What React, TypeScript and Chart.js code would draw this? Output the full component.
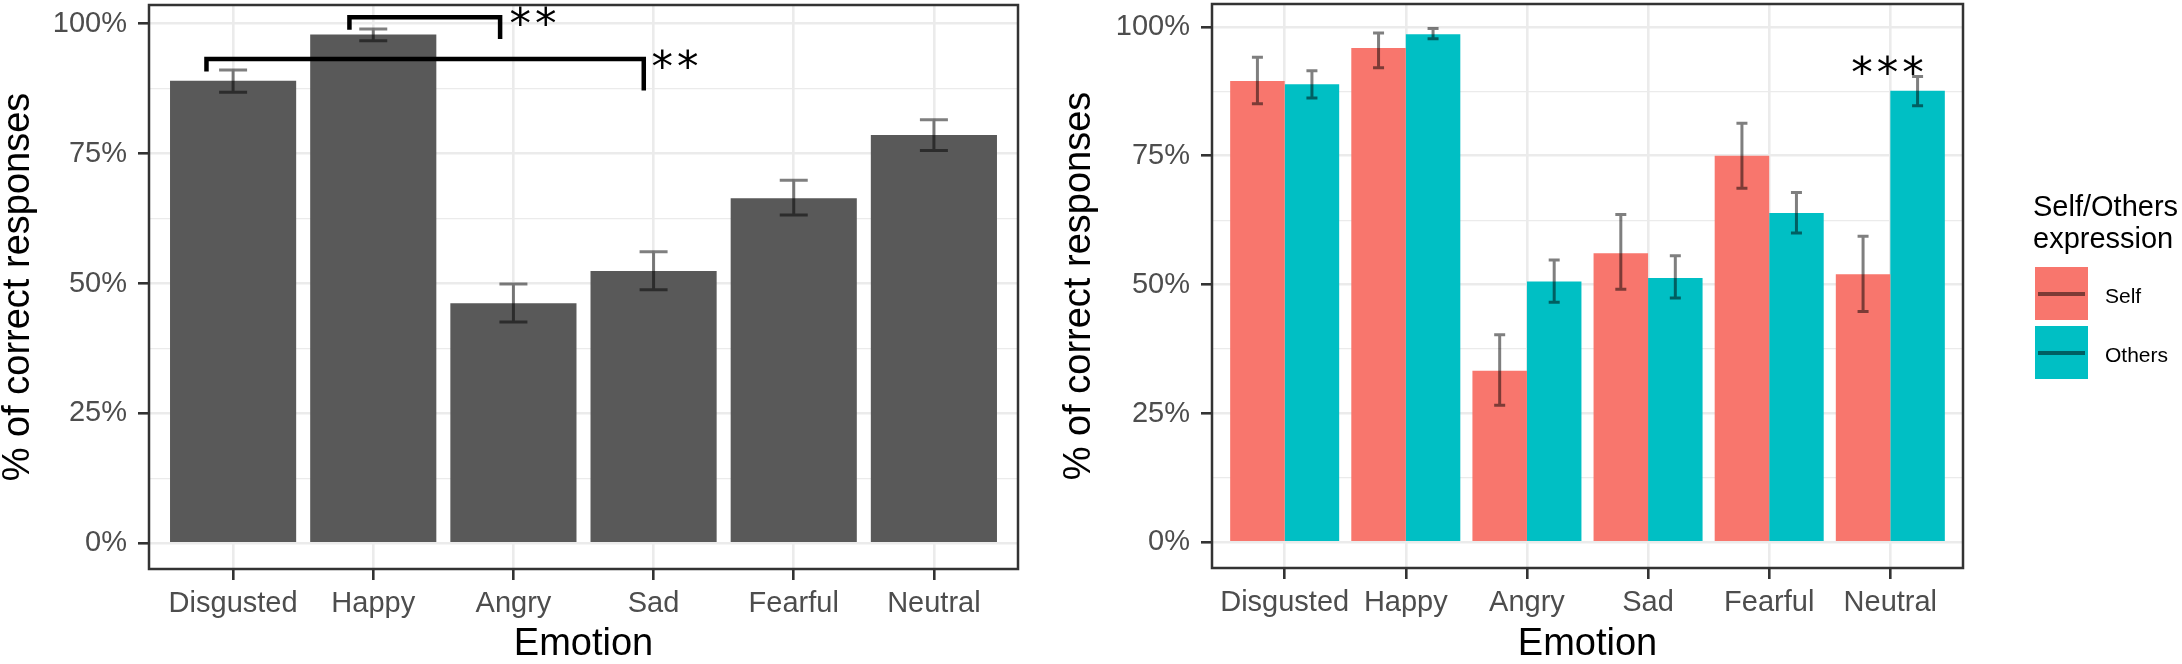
import React, { useEffect, useRef } from 'react';
import { Chart, registerables } from 'chart.js';

Chart.register(...registerables);

// ---------------- data ----------------
const CATEGORIES = ['Disgusted', 'Happy', 'Angry', 'Sad', 'Fearful', 'Neutral'];
const CATEGORY_INDEX = [0, 1, 2, 3, 4, 5];

// left panel: all expressions
const OVERALL_MEAN = [89.0, 97.9, 46.2, 52.4, 66.4, 78.6];
const OVERALL_LOW = [86.8, 96.7, 42.6, 48.8, 63.2, 75.6];
const OVERALL_HIGH = [91.1, 99.0, 49.9, 56.1, 69.9, 81.5];

// right panel: Self / Others expression
const SELF_MEAN = [89.5, 95.9, 33.3, 56.1, 75.0, 52.0];
const SELF_LOW = [85.1, 92.1, 26.6, 49.1, 68.7, 44.8];
const SELF_HIGH = [94.1, 98.8, 40.3, 63.6, 81.3, 59.4];
const OTHERS_MEAN = [88.9, 98.6, 50.6, 51.3, 63.9, 87.6];
const OTHERS_LOW = [86.2, 97.7, 46.6, 47.4, 60.0, 84.7];
const OTHERS_HIGH = [91.5, 99.7, 54.8, 55.6, 67.9, 90.4];

const SERIES_LABELS = ['Self', 'Others'];
const LEGEND_TITLE = ['Self/Others', 'expression'];

const Y_TICKS = [0, 12.5, 25, 37.5, 50, 62.5, 75, 87.5, 100];
const Y_MAJOR = [0, 25, 50, 75, 100];

// significance brackets (left panel), in category / percent units
const BRACKET_FROM = [0.83, -0.19];
const BRACKET_TO = [1.905, 2.93];
const BRACKET_LEVEL = [101.25, 93.2];
const BRACKET_FROM_END = [98.85, 90.8];
const BRACKET_TO_END = [97.05, 87.15];
const BRACKET_LABEL = ['**', '**'];
const BRACKET_LABEL_X = [1.972, 2.985];
const BRACKET_LABEL_Y = [101.9, 93.5];

// significance stars (right panel)
const STAR_X = [4.977];
const STAR_Y = [93.1];
const STAR_LABEL = ['***'];

// ---------------- styles ----------------
const FONT = '"Liberation Sans", Arial, sans-serif';
const GREY_BAR = '#595959';
const SELF_COLOR = '#F8766D';
const OTHERS_COLOR = '#00BFC4';
const GRID = '#EBEBEB';
const AXIS_DARK = '#333333';
const TICK_TEXT = '#4D4D4D';

const isMajor = (c: any) => c && c.tick && Y_MAJOR.includes(c.tick.value);

function yScale(min: number, max: number, axisWidth: number, titlePad: number) {
  return {
    type: 'linear',
    position: 'left',
    min,
    max,
    afterBuildTicks: (s: any) => {
      s.ticks = Y_TICKS.map((v) => ({ value: v }));
    },
    afterFit: (s: any) => {
      s.width = axisWidth;
      s.paddingTop = 0;
      s.paddingBottom = 0;
      s.paddingLeft = 0;
      s.paddingRight = 0;
    },
    ticks: {
      autoSkip: false,
      padding: 11,
      color: TICK_TEXT,
      font: { family: FONT, size: 29 },
      callback: (v: any) => (Y_MAJOR.includes(Number(v)) ? `${v}%` : ''),
    },
    grid: {
      color: GRID,
      lineWidth: (c: any) => (isMajor(c) ? 2.6 : 1.3),
      drawTicks: true,
      tickLength: 11,
      tickColor: (c: any) => (isMajor(c) ? AXIS_DARK : 'rgba(0,0,0,0)'),
      tickWidth: 2.6,
    },
    border: { display: false },
    title: {
      display: true,
      text: '% of correct responses',
      color: '#000',
      font: { family: FONT, size: 38, lineHeight: 1 },
      padding: { top: titlePad, bottom: 0 },
    },
  };
}

function xScale(axisHeight: number) {
  return {
    type: 'linear',
    position: 'bottom',
    min: -0.6,
    max: 5.6,
    offset: false,
    bounds: 'data',
    afterBuildTicks: (s: any) => {
      s.ticks = CATEGORY_INDEX.map((v) => ({ value: v }));
    },
    afterFit: (s: any) => {
      s.height = axisHeight;
      s.paddingTop = 0;
      s.paddingBottom = 0;
      s.paddingLeft = 0;
      s.paddingRight = 0;
    },
    ticks: {
      autoSkip: false,
      maxRotation: 0,
      minRotation: 0,
      padding: 6.5,
      color: TICK_TEXT,
      font: { family: FONT, size: 29 },
      callback: (v: any) => CATEGORIES[Number(v)] ?? '',
    },
    grid: {
      offset: false,
      color: GRID,
      lineWidth: 2.6,
      drawTicks: true,
      tickLength: 11,
      tickColor: AXIS_DARK,
      tickWidth: 2.6,
    },
    border: { display: false },
    title: {
      display: true,
      text: 'Emotion',
      color: '#000',
      font: { family: FONT, size: 38, lineHeight: 1 },
      padding: { top: 0, bottom: 0 },
    },
  };
}

type DecorCfg = {
  capWidth: number;
  brackets?: boolean;
  stars?: boolean;
};

function makeDecor(cfg: DecorCfg) {
  return {
    id: 'panelDecor',
    afterDatasetsDraw(chart: any) {
      const ctx = chart.ctx;
      const ys = chart.scales.y;
      ctx.save();
      ctx.strokeStyle = 'rgba(0,0,0,0.5)';
      ctx.lineWidth = 3;
      ctx.lineCap = 'butt';
      chart.data.datasets.forEach((ds: any, di: number) => {
        const meta = chart.getDatasetMeta(di);
        meta.data.forEach((el: any, i: number) => {
          const x = el.x;
          const yl = ys.getPixelForValue(ds.errLow[i]);
          const yh = ys.getPixelForValue(ds.errHigh[i]);
          const hw = cfg.capWidth / 2;
          ctx.beginPath();
          ctx.moveTo(x - hw, yh);
          ctx.lineTo(x + hw, yh);
          ctx.moveTo(x, yh);
          ctx.lineTo(x, yl);
          ctx.moveTo(x - hw, yl);
          ctx.lineTo(x + hw, yl);
          ctx.stroke();
        });
      });
      ctx.restore();
    },
    afterDraw(chart: any) {
      const ctx = chart.ctx;
      const ca = chart.chartArea;
      const xs = chart.scales.x;
      const ys = chart.scales.y;
      ctx.save();
      // panel border
      ctx.strokeStyle = AXIS_DARK;
      ctx.lineWidth = 2.5;
      ctx.strokeRect(ca.left, ca.top, ca.right - ca.left, ca.bottom - ca.top);

      ctx.fillStyle = '#000';
      ctx.font = '43px "DejaVu Sans"';
      (ctx as any).letterSpacing = '4px';
      ctx.textBaseline = 'alphabetic';

      if (cfg.brackets) {
        ctx.strokeStyle = '#000';
        ctx.lineWidth = 4.5;
        ctx.lineJoin = 'miter';
        ctx.lineCap = 'butt';
        BRACKET_FROM.forEach((from, i) => {
          const x1 = xs.getPixelForValue(from);
          const x2 = xs.getPixelForValue(BRACKET_TO[i]);
          const yTop = ys.getPixelForValue(BRACKET_LEVEL[i]);
          ctx.beginPath();
          ctx.moveTo(x1, ys.getPixelForValue(BRACKET_FROM_END[i]));
          ctx.lineTo(x1, yTop);
          ctx.lineTo(x2, yTop);
          ctx.lineTo(x2, ys.getPixelForValue(BRACKET_TO_END[i]));
          ctx.stroke();
          ctx.textAlign = 'left';
          ctx.fillText(
            BRACKET_LABEL[i],
            xs.getPixelForValue(BRACKET_LABEL_X[i]),
            ys.getPixelForValue(BRACKET_LABEL_Y[i]) + 24
          );
        });
      }
      if (cfg.stars) {
        ctx.textAlign = 'center';
        STAR_X.forEach((sx, i) => {
          ctx.fillText(STAR_LABEL[i], xs.getPixelForValue(sx) + 2, ys.getPixelForValue(STAR_Y[i]) + 24);
        });
      }
      ctx.restore();
    },
  };
}

function toPoints(values: number[]) {
  return CATEGORY_INDEX.map((x, i) => ({ x, y: values[i] }));
}

function leftConfig(): any {
  return {
    type: 'bar',
    data: {
      datasets: [
        {
          label: 'All',
          data: toPoints(OVERALL_MEAN),
          backgroundColor: GREY_BAR,
          borderWidth: 0,
          categoryPercentage: 0.9,
          barPercentage: 1,
          errLow: OVERALL_LOW,
          errHigh: OVERALL_HIGH,
        },
      ],
    },
    options: {
      responsive: false,
      animation: false,
      events: [],
      layout: { padding: { left: 0, top: 5, right: 22, bottom: 0 } },
      plugins: { legend: { display: false }, tooltip: { enabled: false } },
      scales: {
        x: xScale(95),
        y: yScale(-4.93, 103.6, 149, 0),
      },
    },
    plugins: [makeDecor({ capWidth: 28, brackets: true })],
  };
}

function rightConfig(): any {
  return {
    type: 'bar',
    data: {
      datasets: [
        {
          label: SERIES_LABELS[0],
          data: toPoints(SELF_MEAN),
          backgroundColor: SELF_COLOR,
          borderWidth: 0,
          categoryPercentage: 0.9,
          barPercentage: 1,
          errLow: SELF_LOW,
          errHigh: SELF_HIGH,
        },
        {
          label: SERIES_LABELS[1],
          data: toPoints(OTHERS_MEAN),
          backgroundColor: OTHERS_COLOR,
          borderWidth: 0,
          categoryPercentage: 0.9,
          barPercentage: 1,
          errLow: OTHERS_LOW,
          errHigh: OTHERS_HIGH,
        },
      ],
    },
    options: {
      responsive: false,
      animation: false,
      events: [],
      layout: { padding: { left: 0, top: 4, right: 219, bottom: 0 } },
      plugins: { legend: { display: false }, tooltip: { enabled: false } },
      scales: {
        x: xScale(96),
        y: yScale(-4.97, 104.45, 172, 21),
      },
    },
    plugins: [makeDecor({ capWidth: 11, stars: true })],
  };
}

const SERIES_COLORS = [SELF_COLOR, OTHERS_COLOR];
const KEY_TOPS = [267, 326];
const LABEL_TOPS = [285, 344];

export default function App() {
  const leftRef = useRef<HTMLCanvasElement>(null);
  const rightRef = useRef<HTMLCanvasElement>(null);

  useEffect(() => {
    const left = new Chart(leftRef.current as HTMLCanvasElement, leftConfig());
    const right = new Chart(rightRef.current as HTMLCanvasElement, rightConfig());
    return () => {
      left.destroy();
      right.destroy();
    };
  }, []);

  return (
    <div
      style={{
        position: 'absolute',
        left: 0,
        top: 0,
        width: 2182,
        height: 664,
        background: '#fff',
        overflow: 'hidden',
        fontFamily: FONT,
      }}
    >
      <canvas ref={leftRef} width={1040} height={664} style={{ position: 'absolute', left: 0, top: 0 }} />
      <canvas ref={rightRef} width={1142} height={664} style={{ position: 'absolute', left: 1040, top: 0 }} />
      <div
        style={{
          position: 'absolute',
          left: 2033,
          top: 190,
          fontSize: 29,
          lineHeight: '32px',
          color: '#000',
          whiteSpace: 'nowrap',
        }}
      >
        {LEGEND_TITLE[0]}
        <br />
        {LEGEND_TITLE[1]}
      </div>
      {SERIES_LABELS.map((lab, i) => (
        <React.Fragment key={lab}>
          <div
            style={{
              position: 'absolute',
              left: 2035,
              top: KEY_TOPS[i],
              width: 53,
              height: 53,
              background: SERIES_COLORS[i],
            }}
          >
            <div
              style={{
                position: 'absolute',
                left: 3,
                top: 25,
                width: 47,
                height: 4,
                background: 'rgba(0,0,0,0.5)',
              }}
            />
          </div>
          <div
            style={{
              position: 'absolute',
              left: 2105,
              top: LABEL_TOPS[i],
              fontSize: 21,
              lineHeight: '21px',
              color: '#000',
              whiteSpace: 'nowrap',
            }}
          >
            {lab}
          </div>
        </React.Fragment>
      ))}
    </div>
  );
}
